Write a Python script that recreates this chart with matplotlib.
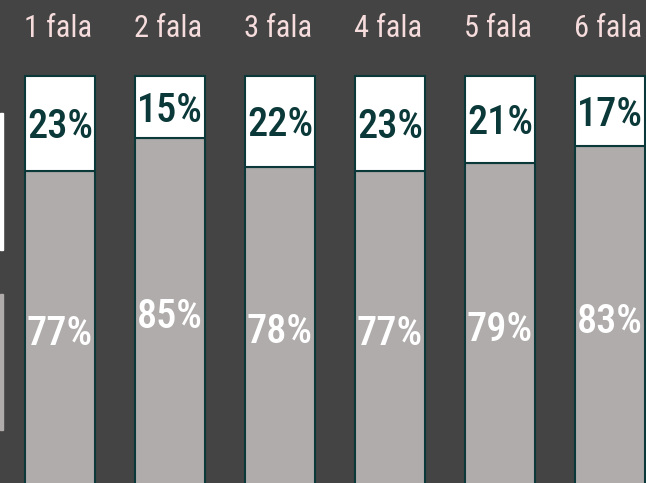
import matplotlib
matplotlib.use("Agg")
import matplotlib.pyplot as plt
from matplotlib.patches import Rectangle
from matplotlib import font_manager

waves = ["1 fala", "2 fala", "3 fala", "4 fala", "5 fala", "6 fala"]
no_share = [77, 85, 78, 77, 79, 83]      # gray, bottom
yes_share = [23, 15, 22, 23, 21, 17]     # white, top

BG = "#444444"
GRAY = "#b0acab"
EDGE = "#0b3838"
HEAD = "#f6dcdc"

names = {f.name for f in font_manager.fontManager.ttflist}
family = "DejaVu Sans"
for cand in ["Roboto Condensed", "Liberation Sans Narrow", "DejaVu Sans Condensed"]:
    if cand in names:
        family = cand
        break

fig = plt.figure(figsize=(6.46, 4.83), dpi=100, facecolor=BG)
ax = fig.add_axes([0, 0, 1, 1])
ax.set_facecolor(BG)

x = range(len(waves))
w = 0.636
ax.bar(x, no_share, width=w, color=GRAY, edgecolor=EDGE, linewidth=1.5)
ax.bar(x, yes_share, bottom=no_share, width=w, color="white", edgecolor=EDGE, linewidth=1.5)

for i, (n, y) in enumerate(zip(no_share, yes_share)):
    ax.text(i, n / 2, f"{n}%", ha="center", va="center_baseline", color="white",
            fontsize=29, family=family, fontweight="medium")
    ax.text(i, n + y / 2, f"{y}%", ha="center", va="center_baseline", color=EDGE,
            fontsize=29, family=family, fontweight="medium")
    ax.text(i - 0.02, 112.3, waves[i], ha="center", va="center_baseline", color=HEAD,
            fontsize=22, family=family, fontweight="normal")

ax.set_xlim(-0.545, 5.327)
ax.set_ylim(1.45, 118.4)
ax.axis("off")

# clipped legend swatches at the left edge
fig.patches.append(Rectangle((0, 1 - 250 / 483), 3 / 646, 137 / 483,
                             transform=fig.transFigure, color="white"))
fig.patches.append(Rectangle((0, 1 - 430 / 483), 3 / 646, 136 / 483,
                             transform=fig.transFigure, color=GRAY))

fig.savefig("out.png", dpi=100, facecolor=BG)
